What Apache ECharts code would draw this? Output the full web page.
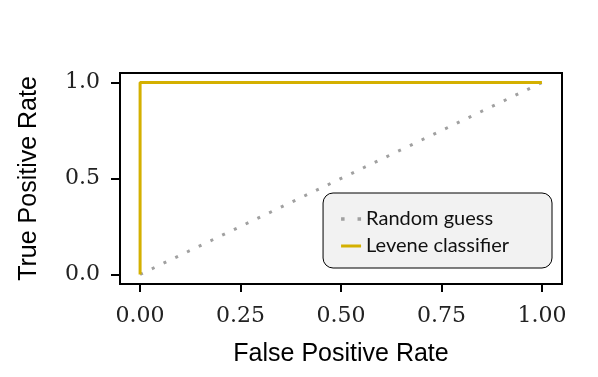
<!DOCTYPE html>
<html>
<head>
<meta charset="utf-8">
<script src="https://cdn.jsdelivr.net/npm/echarts@6/dist/echarts.min.js"></script>
<style>
  html, body { margin: 0; padding: 0; background: #fff; }
  #chart { width: 598px; height: 377px; }
</style>
</head>
<body>
<div id="chart"></div>
<script>
// ROC data
const randomFpr = [0, 1]
const randomTpr = [0, 1]
const leveneFpr = [0, 0, 1]
const leveneTpr = [0, 1, 1]
const xTicks = [0, 0.25, 0.5, 0.75, 1]
const yTicks = [0, 0.5, 1]

const serif = '"DejaVu Serif", "Liberation Serif", serif'
const sans = '"Liberation Sans", Arial, sans-serif'

const chart = echarts.init(document.getElementById('chart'))
chart.setOption({
  animation: false,
  grid: {
    left: 120, right: 36, top: 73, bottom: 93,
    show: true, borderColor: '#000', borderWidth: 2
  },
  legend: {
    right: 46, top: 193,
    orient: 'vertical',
    backgroundColor: '#f2f2f2',
    borderColor: '#000',
    borderWidth: 1,
    borderRadius: 10,
    padding: [15, 43, 11, 18],
    itemGap: 5,
    itemWidth: 20,
    itemHeight: 10,
    textStyle: { fontFamily: 'Lato, "Open Sans", sans-serif', fontSize: 20, lineHeight: 22, color: '#111' },
    data: [
      { name: 'Random guess', icon: 'path://M0,4 h3 v3 h-3 z M14,4 h3 v3 h-3 z', itemStyle: { color: '#a0a0a0' } },
      { name: 'Levene classifier', icon: 'path://M0,4 h20 v3 h-20 z', itemStyle: { color: '#d4b000' } }
    ]
  },
  xAxis: {
    type: 'value', min: -0.05, max: 1.05,
    name: 'False Positive Rate', nameLocation: 'middle', nameGap: 58,
    nameTextStyle: { fontFamily: sans, fontSize: 25, color: '#000' },
    splitLine: { show: false },
    axisLine: { show: false, onZero: false },
    axisTick: { show: true, customValues: xTicks, length: 8, lineStyle: { color: '#000', width: 2 } },
    axisLabel: {
      customValues: xTicks, margin: 21,
      fontFamily: serif, fontSize: 22, color: '#222',
      formatter: v => v.toFixed(2)
    }
  },
  yAxis: {
    type: 'value', min: -0.05, max: 1.05,
    name: 'True Positive Rate', nameLocation: 'middle', nameGap: 78,
    nameTextStyle: { fontFamily: sans, fontSize: 25, color: '#000' },
    splitLine: { show: false },
    axisLine: { show: false, onZero: false },
    axisTick: { show: true, customValues: yTicks, length: 9, lineStyle: { color: '#000', width: 2 } },
    axisLabel: {
      customValues: yTicks, margin: 20,
      fontFamily: serif, fontSize: 22, color: '#222',
      formatter: v => v.toFixed(1)
    }
  },
  series: [
    {
      name: 'Random guess', type: 'line', symbol: 'none',
      data: randomFpr.map((x, i) => [x, randomTpr[i]]),
      lineStyle: { color: '#a0a0a0', width: 3, type: [3, 10] },
      itemStyle: { color: '#a0a0a0' },
      z: 2
    },
    {
      name: 'Levene classifier', type: 'line', symbol: 'none',
      data: leveneFpr.map((x, i) => [x, leveneTpr[i]]),
      lineStyle: { color: '#d4b000', width: 3 },
      itemStyle: { color: '#d4b000' },
      z: 3
    }
  ]
})
</script>
</body>
</html>
